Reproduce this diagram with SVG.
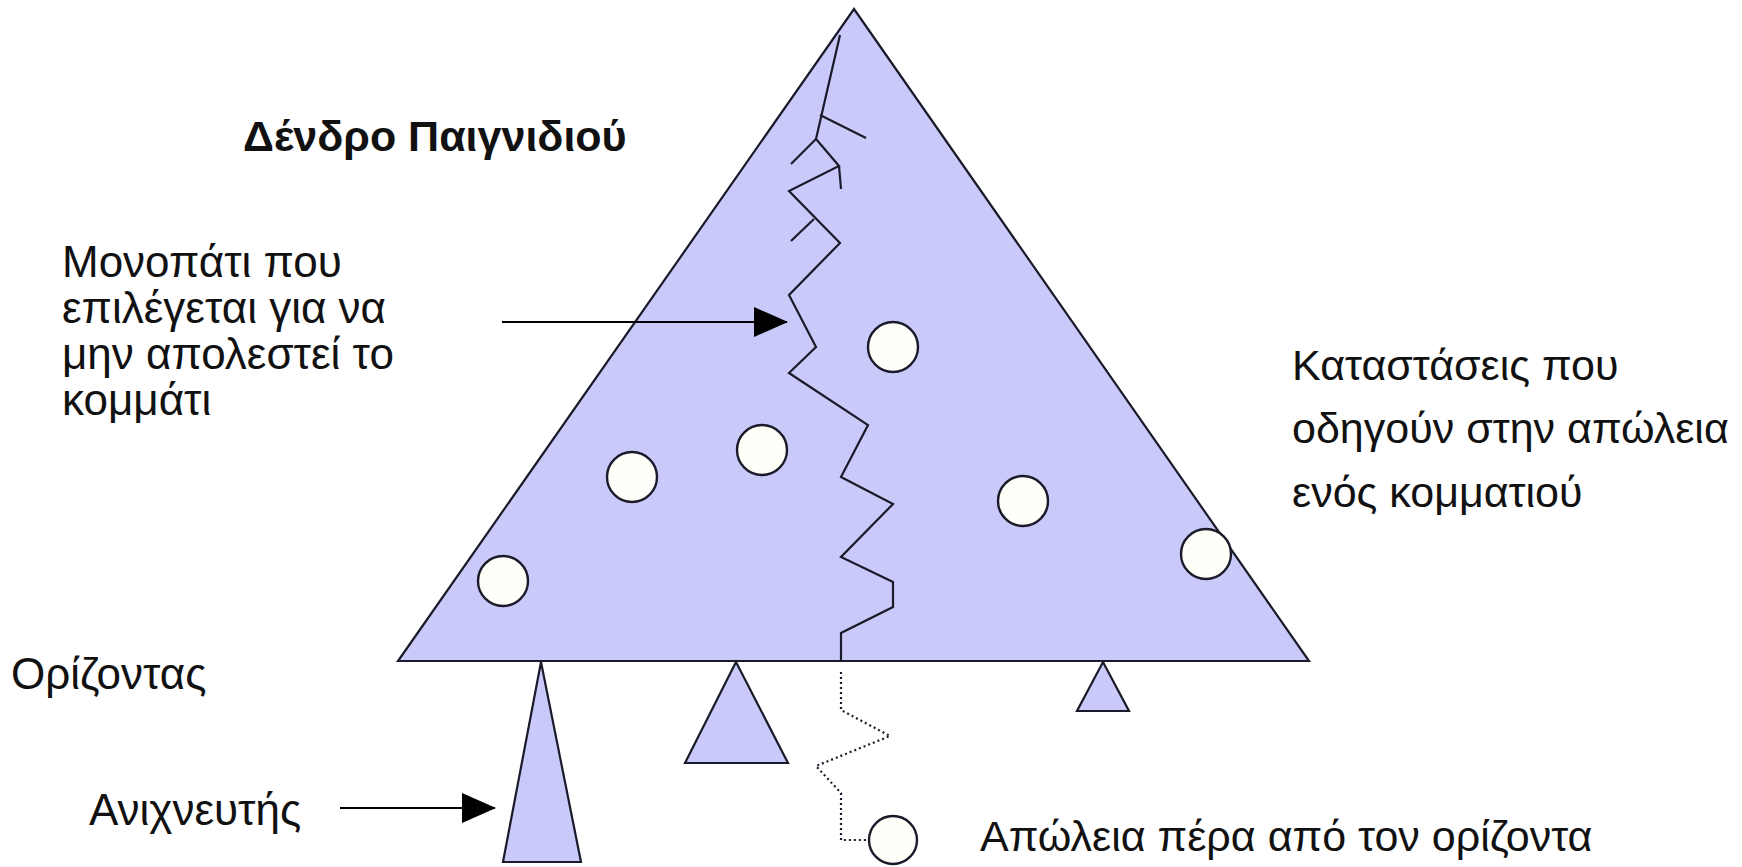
<svg xmlns="http://www.w3.org/2000/svg" width="1742" height="867" viewBox="0 0 1742 867">
<style>
.tri{fill:#CACAFA;stroke:#1a1a2a;stroke-width:2.2;stroke-linejoin:miter}
.st{fill:#FFFFFA;stroke:#1a1a2a;stroke-width:2.4}
.pth{fill:none;stroke:#1a1a2a;stroke-width:2.2;stroke-linejoin:miter}
.dot{fill:none;stroke:#1a1a2a;stroke-width:2.2;stroke-dasharray:2 3}
.arr{fill:none;stroke:#000;stroke-width:2.2}
.lbl{font-family:"Liberation Sans",Arial,sans-serif;font-size:44px;fill:#111}
.rt{font-size:43px}
.ttl{font-family:"Liberation Sans",Arial,sans-serif;font-size:43px;font-weight:bold;fill:#111}
</style>
<defs>
<marker id="ah" viewBox="0 0 34 30" refX="33" refY="15" markerWidth="34" markerHeight="30" markerUnits="userSpaceOnUse" orient="auto">
<path d="M0,0 L34,15 L0,30 Z" fill="#000"/>
</marker>
</defs>
<rect width="1742" height="867" fill="#fff"/>
<g id="game-tree">
<polygon class="tri" points="854,9 1309,661 398,661"/>
</g>
<g id="detector-tree">
<polygon class="tri" points="541,662 581,862 503,862"/>
</g>
<g id="subtree-middle">
<polygon class="tri" points="736,662 788,763 685,763"/>
</g>
<g id="subtree-right">
<polygon class="tri" points="1103,662 1129,711 1077,711"/>
</g>
<g id="states">
<circle class="st" cx="503" cy="581" r="25"/>
<circle class="st" cx="632" cy="477" r="25"/>
<circle class="st" cx="762" cy="450" r="25"/>
<circle class="st" cx="893" cy="347" r="25"/>
<circle class="st" cx="1023" cy="501" r="25"/>
<circle class="st" cx="1206" cy="554" r="25"/>
</g>
<g id="loss-beyond">
<circle class="st" cx="893" cy="840" r="24"/>
</g>
<g id="connectors">
<polyline class="pth" points="840,35 816,139 839,166 789,191 840,243 789,295 816,347 789,373 868,425 841,477 893,504 841,557 893,582 893,607 841,633 841,661"/>
<line class="pth" x1="820" y1="115" x2="866" y2="138"/>
<line class="pth" x1="816" y1="139" x2="791" y2="164"/>
<line class="pth" x1="839" y1="166" x2="841" y2="189"/>
<line class="pth" x1="814" y1="219" x2="791" y2="241"/>
<polyline class="dot" points="841,672 841,710 890,736 816,766 841,793 841,840 868,840"/>
<line class="arr" x1="502" y1="322" x2="787" y2="322" marker-end="url(#ah)"/>
<line class="arr" x1="340" y1="808" x2="495" y2="808" marker-end="url(#ah)"/>
</g>
<g id="labels">
<text class="ttl" x="243" y="151">Δένδρο Παιγνιδιού</text>
<text class="lbl" x="62" y="277">Μονοπάτι που</text>
<text class="lbl" x="62" y="323">επιλέγεται για να</text>
<text class="lbl" x="62" y="369">μην απολεστεί το</text>
<text class="lbl" x="62" y="415">κομμάτι</text>
<text class="lbl rt" x="1292" y="380">Καταστάσεις που</text>
<text class="lbl rt" x="1292" y="443">οδηγούν στην απώλεια</text>
<text class="lbl rt" x="1292" y="507">ενός κομματιού</text>
<text class="lbl" x="11" y="689">Ορίζοντας</text>
<text class="lbl" x="89" y="825">Ανιχνευτής</text>
<text class="lbl rt" x="980" y="851">Απώλεια πέρα από τον ορίζοντα</text>
</g>
</svg>
